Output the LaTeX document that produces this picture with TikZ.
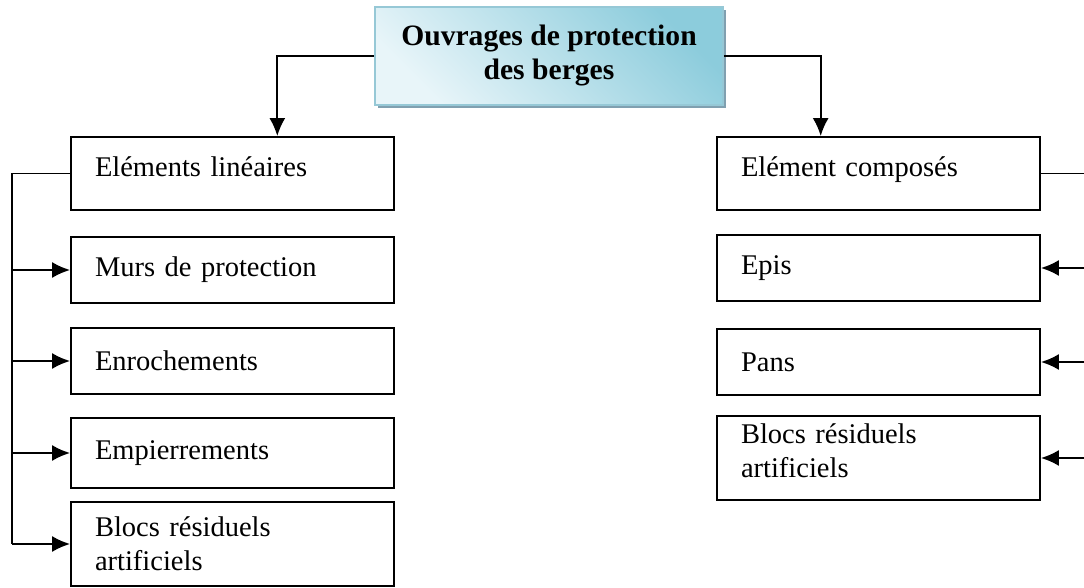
\documentclass[tikz,border=0pt]{standalone}
\usepackage{fontspec}
\setmainfont{Liberation Serif}
\usetikzlibrary{
  arrows.meta,%
  calc,%
  positioning,%
  shadows
}
\definecolor{titletop}{RGB}{140,204,220}
\definecolor{titlebottom}{RGB}{232,245,249}
\definecolor{titleedge}{RGB}{150,200,214}
\definecolor{titleshadow}{RGB}{128,160,176}
\tikzset{>={Latex[length=9pt, width=8pt]}}
\tikzset{font=\fontsize{14.25}{17}\selectfont}
\tikzset{
  item/.style={draw, line width=0.9pt, text width=137.5pt, inner xsep=12pt, align=left},
  head/.style={item, minimum height=36.5pt, text depth=7pt},
  title/.style={draw=titleedge, thick, top color=titletop, bottom color=titlebottom,
    shading angle=-45, minimum width=174pt, minimum height=49pt, align=center,
    font=\fontsize{14.8}{17}\selectfont\bfseries,
    drop shadow={shadow xshift=1.5pt, shadow yshift=-1.5pt, fill=titleshadow, opacity=1}},
  conn/.style={line width=1pt},
  conn thin/.style={line width=0.7pt}
}

\begin{document}
\begin{tikzpicture}[x=0.5pt, y=-0.5pt]
  \useasboundingbox (0, 0) rectangle (1084, 588); %
  \coordinate (ltrunk) at (12, 0); %
  \coordinate (redge) at (1092, 0); %
  \node[title] (ouvrages) at (549, 56) {Ouvrages de protection\\des berges}; %
  % left column
  \node[head] (lineaires) at (232.5, 173.5) {Eléments linéaires}; %
  \node[item, minimum height=33pt] (murs) at (232.5, 270) {Murs de protection}; %
  \node[item, minimum height=33pt] (enroch) at (232.5, 361) {Enrochements}; %
  \node[item, minimum height=35pt] (empier) at (232.5, 453) {Empierrements}; %
  \node[item, minimum height=42pt] (blocsl) at (232.5, 544) {Blocs résiduels\\artificiels}; %
  % right column
  \node[head] (composes) at (878.5, 173.5) {Elément composés}; %
  \node[item, minimum height=33pt] (epis) at (878.5, 268) {Epis}; %
  \node[item, minimum height=33pt] (pans) at (878.5, 362) {Pans}; %
  \node[item, minimum height=42pt, text depth=24pt] (blocsr) at (878.5, 458) {Blocs résiduels\\artificiels}; %
  % links from the title
  \draw[conn, ->] (ouvrages.west) -| ($(lineaires.north west)!0.638!(lineaires.north east)$); %
  \draw[conn, ->] (ouvrages.east) -| ($(composes.north west)!0.322!(composes.north east)$); %
  % left trunk
  \draw[conn thin] (lineaires.west) -- (lineaires.west -| ltrunk); %
  \draw[conn] (lineaires.west -| ltrunk) -- (ltrunk |- blocsl.west); %
  \foreach \n in {murs, enroch, empier, blocsl}
    \draw[conn, ->] (ltrunk |- \n.west) -- (\n.west); %
  % right trunk
  \draw[conn thin] (composes.east) -- (composes.east -| redge); %
  \foreach \n in {epis, pans, blocsr}
    \draw[conn, ->] (redge |- \n.east) -- (\n.east); %
\end{tikzpicture}
\end{document}
